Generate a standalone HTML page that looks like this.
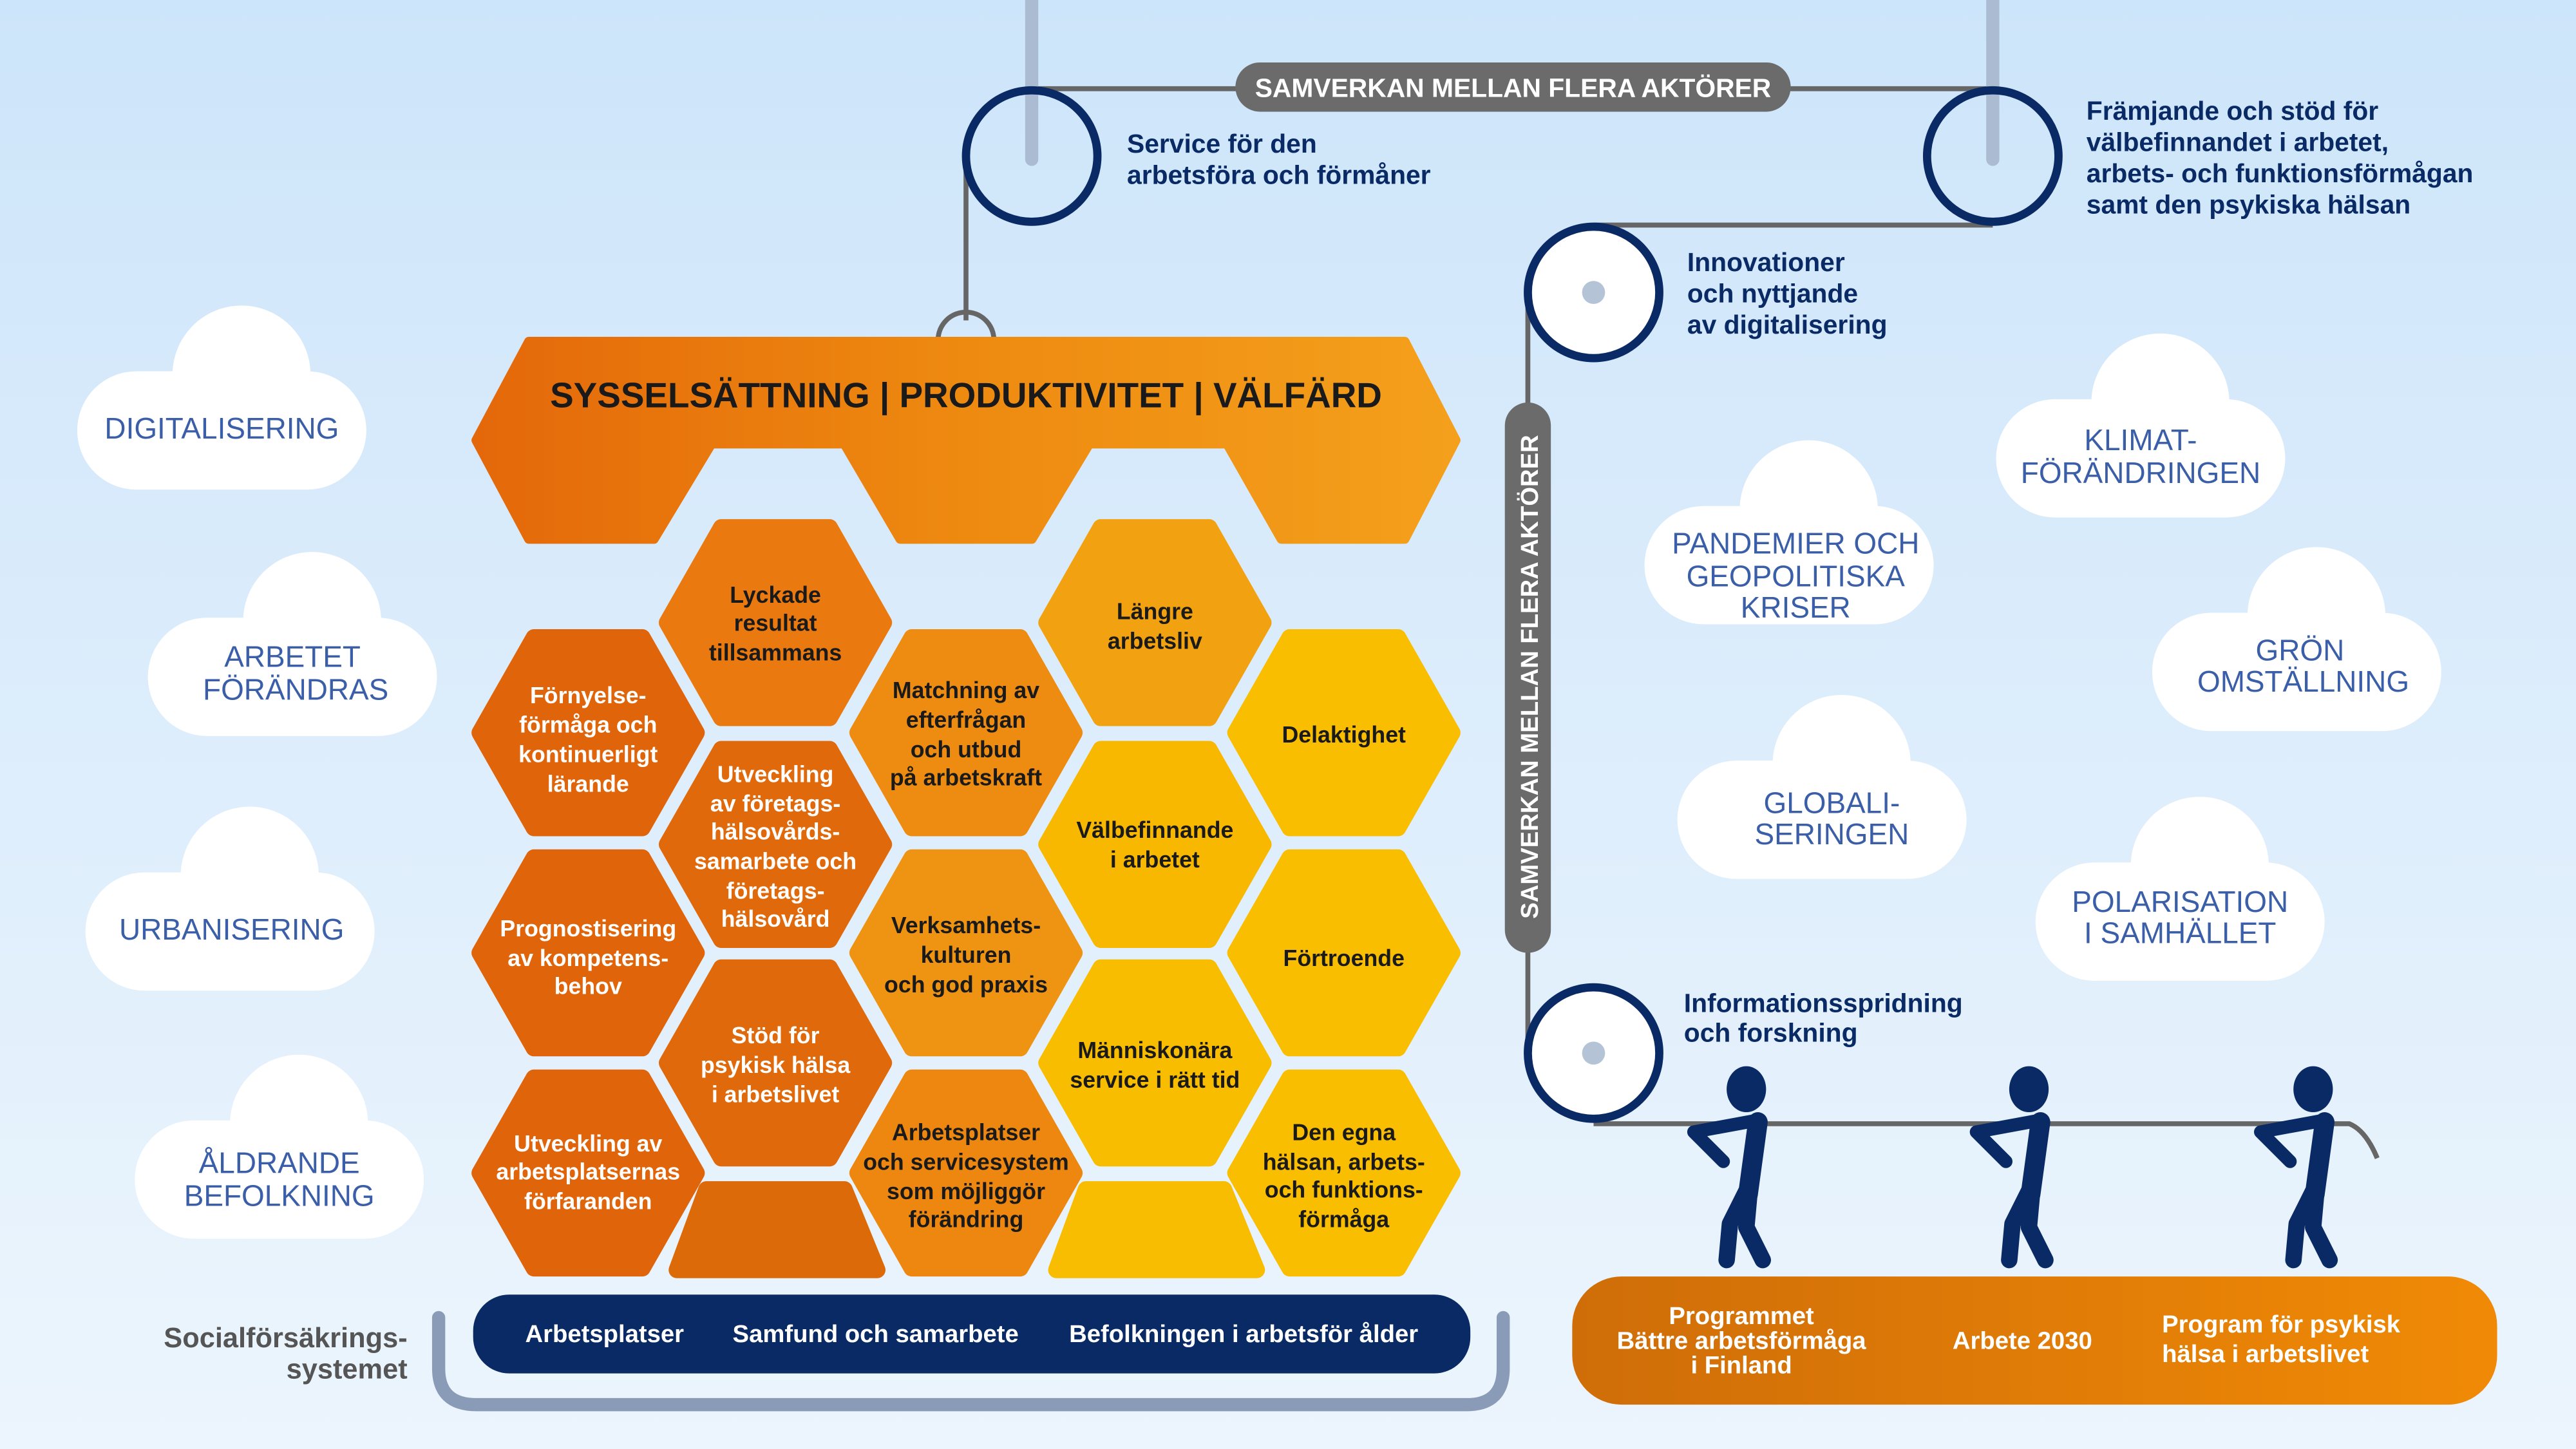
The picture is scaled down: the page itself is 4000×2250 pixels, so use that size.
<!DOCTYPE html>
<html><head><meta charset="utf-8"><style>html,body{margin:0;padding:0}svg{display:block}</style></head>
<body>
<svg width="4000" height="2250" viewBox="0 0 1568 882" preserveAspectRatio="none" xmlns="http://www.w3.org/2000/svg" font-family="Liberation Sans, sans-serif">
<defs>
<linearGradient id="bg" x1="0" y1="0" x2="0" y2="1"><stop offset="0" stop-color="#cde5fa"/><stop offset="1" stop-color="#ecf5fd"/></linearGradient>
<linearGradient id="ban" x1="0" y1="0" x2="1" y2="0"><stop offset="0" stop-color="#e4680a"/><stop offset="0.5" stop-color="#ee8a10"/><stop offset="1" stop-color="#f4a01c"/></linearGradient>
<linearGradient id="ob" x1="0" y1="0" x2="1" y2="0"><stop offset="0" stop-color="#cf6d08"/><stop offset="1" stop-color="#f08a06"/></linearGradient>
<g id="cloud"><rect x="-88" y="-32" width="176" height="72" rx="36" fill="#fff"/><circle cx="12" cy="-30" r="42" fill="#fff"/></g>
<g id="fig" fill="none" stroke="#0a2a66" stroke-linecap="round" stroke-linejoin="round"><ellipse cx="0" cy="0" rx="12" ry="14" fill="#0a2a66" stroke="none"/><path d="M7 20 L1 64" stroke-width="12"/><path d="M6 19 L-32 26 L-14 44" stroke-width="8"/><path d="M0 62 L-10 82 L-12 104" stroke-width="10"/><path d="M2 62 L0 84 L10 104" stroke-width="10"/></g>
</defs>
<rect width="1568" height="882" fill="url(#bg)"/>
<g font-size="18" fill="#3b5ea8" text-anchor="middle">
<use href="#cloud" x="135" y="258"/><text x="135" y="267">DIGITALISERING</text>
<use href="#cloud" x="178" y="408"/><text x="178" y="406">ARBETET</text><text x="180" y="426">FÖRÄNDRAS</text>
<use href="#cloud" x="140" y="563"/><text x="141" y="572">URBANISERING</text>
<use href="#cloud" x="170" y="714"/><text x="170" y="714">ÅLDRANDE</text><text x="170" y="734">BEFOLKNING</text>
<use href="#cloud" x="1089" y="340"/><text x="1093" y="337">PANDEMIER OCH</text><text x="1093" y="357">GEOPOLITISKA</text><text x="1093" y="376">KRISER</text>
<use href="#cloud" x="1109" y="495"/><text x="1115" y="495">GLOBALI-</text><text x="1115" y="514">SERINGEN</text>
<use href="#cloud" x="1303" y="275"/><text x="1303" y="274">KLIMAT-</text><text x="1303" y="294">FÖRÄNDRINGEN</text>
<use href="#cloud" x="1398" y="405"/><text x="1400" y="402">GRÖN</text><text x="1402" y="421">OMSTÄLLNING</text>
<use href="#cloud" x="1327" y="557"/><text x="1327" y="555">POLARISATION</text><text x="1327" y="574">I SAMHÄLLET</text>
</g>
<g stroke="#666" stroke-width="3" fill="none">
<line x1="628" y1="54" x2="1213" y2="54"/>
<line x1="970" y1="137" x2="1213" y2="137"/>
<line x1="930" y1="178" x2="930" y2="641"/>
<line x1="588" y1="95" x2="588" y2="195"/>
<path d="M571 207 A17 17 0 0 1 605 207"/>
<path d="M970 684 L1430 684 Q1440 688 1447 705"/>
</g>
<g stroke="#aabbd2" stroke-width="8" stroke-linecap="round"><line x1="628" y1="0" x2="628" y2="97"/><line x1="1213" y1="0" x2="1213" y2="97"/></g>
<g fill="#fff" stroke="#0a2a66" stroke-width="5">
<circle cx="628" cy="95" r="40" fill="none"/><circle cx="1213" cy="95" r="40" fill="none"/>
<circle cx="970" cy="178" r="40"/><circle cx="970" cy="641" r="40"/>
</g>
<circle cx="970" cy="178" r="7" fill="#b5c3d6"/><circle cx="970" cy="641" r="7" fill="#b5c3d6"/>
<rect x="752" y="38" width="338" height="30" rx="15" fill="#6b6b6b"/>
<text x="921" y="59" font-size="16" font-weight="bold" fill="#fff" text-anchor="middle">SAMVERKAN MELLAN FLERA AKTÖRER</text>
<rect x="916" y="245" width="28" height="335" rx="14" fill="#6b6b6b"/>
<text transform="translate(936,412) rotate(-90)" font-size="15" font-weight="bold" fill="#fff" text-anchor="middle">SAMVERKAN MELLAN FLERA AKTÖRER</text>
<g font-size="16" font-weight="bold" fill="#0a2a66">
<text x="686" y="93">Service för den</text><text x="686" y="112">arbetsföra och förmåner</text>
<text x="1270" y="73">Främjande och stöd för</text><text x="1270" y="92">välbefinnandet i arbetet,</text><text x="1270" y="111">arbets- och funktionsförmågan</text><text x="1270" y="130">samt den psykiska hälsan</text>
<text x="1027" y="165">Innovationer</text><text x="1027" y="184">och nyttjande</text><text x="1027" y="203">av digitalisering</text>
<text x="1025" y="616">Informationsspridning</text><text x="1025" y="634">och forskning</text>
</g>
<polygon points="290,268 322,208 855,208 886,268 855,328 780,328 747,270 663,270 628,328 548,328 514,270 433,270 398,328 322,328" fill="url(#ban)" stroke="url(#ban)" stroke-width="6" stroke-linejoin="round"/>
<text x="588" y="248" font-size="21.5" font-weight="bold" fill="#1a1a1a" text-anchor="middle">SYSSELSÄTTNING | PRODUKTIVITET | VÄLFÄRD</text>
<g stroke-width="10" stroke-linejoin="round">
<polygon points="292,446 325,388 391,388 424,446 391,504 325,504" fill="#e0650a" stroke="#e0650a"/>
<polygon points="292,580 325,522 391,522 424,580 391,638 325,638" fill="#e0650a" stroke="#e0650a"/>
<polygon points="292,714 325,656 391,656 424,714 391,772 325,772" fill="#e0650a" stroke="#e0650a"/>
<polygon points="406,379 439,321 505,321 538,379 505,437 439,437" fill="#ea7a10" stroke="#ea7a10"/>
<polygon points="406,514 439,456 505,456 538,514 505,572 439,572" fill="#e06a0b" stroke="#e06a0b"/>
<polygon points="406,647 439,589 505,589 538,647 505,705 439,705" fill="#e06a0b" stroke="#e06a0b"/>
<polygon points="412,773 430,724 514,724 534,773" fill="#dd6a08" stroke="#dd6a08"/>
<polygon points="522,446 555,388 621,388 654,446 621,504 555,504" fill="#ee8c12" stroke="#ee8c12"/>
<polygon points="522,580 555,522 621,522 654,580 621,638 555,638" fill="#ef9412" stroke="#ef9412"/>
<polygon points="522,714 555,656 621,656 654,714 621,772 555,772" fill="#ed870f" stroke="#ed870f"/>
<polygon points="637,379 670,321 736,321 769,379 736,437 670,437" fill="#f2a210" stroke="#f2a210"/>
<polygon points="637,514 670,456 736,456 769,514 736,572 670,572" fill="#f8b800" stroke="#f8b800"/>
<polygon points="637,647 670,589 736,589 769,647 736,705 670,705" fill="#f9bd00" stroke="#f9bd00"/>
<polygon points="643,773 661,724 745,724 765,773" fill="#f8bd00" stroke="#f8bd00"/>
<polygon points="752,446 785,388 851,388 884,446 851,504 785,504" fill="#f9be00" stroke="#f9be00"/>
<polygon points="752,580 785,522 851,522 884,580 851,638 785,638" fill="#f9be00" stroke="#f9be00"/>
<polygon points="752,714 785,656 851,656 884,714 851,772 785,772" fill="#f9be00" stroke="#f9be00"/>
</g>
<g font-size="14" font-weight="bold" text-anchor="middle" fill="#fff">
<text x="358" y="428">Förnyelse-</text><text x="358" y="446">förmåga och</text><text x="358" y="464">kontinuerligt</text><text x="358" y="482">lärande</text>
<text x="358" y="570">Prognostisering</text><text x="358" y="588">av kompetens-</text><text x="358" y="605">behov</text>
<text x="358" y="701">Utveckling av</text><text x="358" y="718">arbetsplatsernas</text><text x="358" y="736">förfaranden</text>
<text x="472" y="476">Utveckling</text><text x="472" y="494">av företags-</text><text x="472" y="511">hälsovårds-</text><text x="472" y="529">samarbete och</text><text x="472" y="547">företags-</text><text x="472" y="564">hälsovård</text>
<text x="472" y="635">Stöd för</text><text x="472" y="653">psykisk hälsa</text><text x="472" y="671">i arbetslivet</text>
</g>
<g font-size="14" font-weight="bold" text-anchor="middle" fill="#1a1a1a">
<text x="472" y="367">Lyckade</text><text x="472" y="384">resultat</text><text x="472" y="402">tillsammans</text>
<text x="588" y="425">Matchning av</text><text x="588" y="443">efterfrågan</text><text x="588" y="461">och utbud</text><text x="588" y="478">på arbetskraft</text>
<text x="588" y="568">Verksamhets-</text><text x="588" y="586">kulturen</text><text x="588" y="604">och god praxis</text>
<text x="588" y="694">Arbetsplatser</text><text x="588" y="712">och servicesystem</text><text x="588" y="730">som möjliggör</text><text x="588" y="747">förändring</text>
<text x="703" y="377">Längre</text><text x="703" y="395">arbetsliv</text>
<text x="703" y="510">Välbefinnande</text><text x="703" y="528">i arbetet</text>
<text x="703" y="644">Människonära</text><text x="703" y="662">service i rätt tid</text>
<text x="818" y="452">Delaktighet</text>
<text x="818" y="588">Förtroende</text>
<text x="818" y="694">Den egna</text><text x="818" y="712">hälsan, arbets-</text><text x="818" y="729">och funktions-</text><text x="818" y="747">förmåga</text>
</g>
<path d="M267 802 L267 833 Q267 855 290 855 L893 855 Q915 855 915 833 L915 802" fill="none" stroke="#8a9bb8" stroke-width="8" stroke-linecap="round"/>
<rect x="288" y="788" width="607" height="48" rx="22" fill="#0a2a66"/>
<g font-size="15" font-weight="bold" fill="#fff" text-anchor="middle"><text x="368" y="817">Arbetsplatser</text><text x="533" y="817">Samfund och samarbete</text><text x="757" y="817">Befolkningen i arbetsför ålder</text></g>
<g font-size="17" font-weight="bold" fill="#555" text-anchor="end"><text x="248" y="820">Socialförsäkrings-</text><text x="248" y="839">systemet</text></g>
<rect x="957" y="777" width="563" height="78" rx="30" fill="url(#ob)"/>
<g font-size="15" font-weight="bold" fill="#fff" text-anchor="middle"><text x="1060" y="806">Programmet</text><text x="1060" y="821">Bättre arbetsförmåga</text><text x="1060" y="836">i Finland</text><text x="1231" y="821">Arbete 2030</text></g>
<g font-size="15" font-weight="bold" fill="#fff"><text x="1316" y="811">Program för psykisk</text><text x="1316" y="829">hälsa i arbetslivet</text></g>
<use href="#fig" x="1063" y="663"/><use href="#fig" x="1235" y="663"/><use href="#fig" x="1408" y="663"/>
</svg>
</body></html>
